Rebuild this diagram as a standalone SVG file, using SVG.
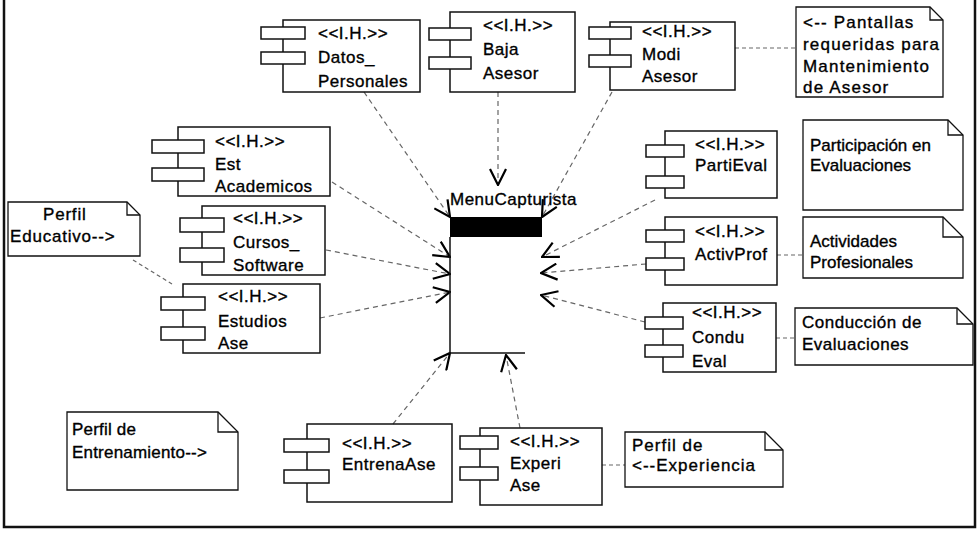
<svg xmlns="http://www.w3.org/2000/svg" width="978" height="538" viewBox="0 0 978 538">
<style>
.bg{fill:#fff}
.frame{fill:none;stroke:#111;stroke-width:2.5}
.box{fill:none;stroke:#111;stroke-width:1.5}
.port{fill:#fff;stroke:#111;stroke-width:1.5}
.note{fill:#fff;stroke:#111;stroke-width:1.3}
.fold{fill:none;stroke:#111;stroke-width:1.3}
.t{font-family:"Liberation Sans",Arial,sans-serif;font-size:17px;fill:#000;stroke:#000;stroke-width:0.35;letter-spacing:0.5px}
.dep{fill:none;stroke:#666;stroke-width:1.2;stroke-dasharray:5 4}
.att{fill:none;stroke:#666;stroke-width:1.2;stroke-dasharray:4 3}
.bar{fill:#000}
</style>
<defs>
<marker id="open" markerUnits="userSpaceOnUse" viewBox="0 0 18 18" markerWidth="18" markerHeight="18" refX="17" refY="9" orient="auto">
<path d="M1,1 L17,9 L1,17" fill="none" stroke="#000" stroke-width="2.2"/>
</marker>
</defs>
<rect class="bg" x="0" y="0" width="978" height="538"/>
<path class="frame" d="M4,0 V527 H975 V0"/>

<g id="connectors">
<line class="dep" x1="364" y1="92" x2="450" y2="217" marker-end="url(#open)"/>
<line class="dep" x1="498" y1="92" x2="498" y2="185" marker-end="url(#open)"/>
<line class="dep" x1="612" y1="92" x2="542" y2="217" marker-end="url(#open)"/>
<line class="dep" x1="332" y1="182" x2="450" y2="257" marker-end="url(#open)"/>
<line class="dep" x1="326" y1="250" x2="450" y2="274" marker-end="url(#open)"/>
<line class="dep" x1="320" y1="318" x2="450" y2="292" marker-end="url(#open)"/>
<line class="dep" x1="655" y1="200" x2="542" y2="257" marker-end="url(#open)"/>
<line class="dep" x1="646" y1="264" x2="541" y2="273" marker-end="url(#open)"/>
<line class="dep" x1="645" y1="322" x2="541" y2="295" marker-end="url(#open)"/>
<line class="dep" x1="393" y1="424" x2="450" y2="353" marker-end="url(#open)"/>
<line class="dep" x1="520" y1="428" x2="506" y2="355" marker-end="url(#open)"/>
<line class="att" x1="133" y1="260" x2="172" y2="284"/>
<line class="att" x1="735" y1="48" x2="796" y2="48"/>
<line class="att" x1="777" y1="255" x2="803" y2="255"/>
<line class="att" x1="776" y1="338" x2="795" y2="338"/>
<line class="att" x1="602" y1="465" x2="625" y2="465"/>
</g>

<g id="menu">
<text class="t" x="450" y="205">MenuCapturista</text>
<rect class="bar" x="450" y="217" width="92" height="20"/>
<path class="box" d="M450,237 V353 H525"/>
</g>

<g id="datos">
<rect class="box" x="283" y="20" width="137" height="72"/>
<rect class="port" x="261" y="27" width="44" height="12"/>
<rect class="port" x="261" y="52" width="44" height="12"/>
<text class="t" x="318" y="39">&lt;&lt;I.H.&gt;&gt;</text>
<text class="t" x="318" y="63">Datos_</text>
<text class="t" x="318" y="87">Personales</text>
</g>

<g id="baja">
<rect class="box" x="450" y="12" width="125" height="80"/>
<rect class="port" x="429" y="28" width="42" height="12"/>
<rect class="port" x="429" y="57" width="42" height="12"/>
<text class="t" x="483" y="31">&lt;&lt;I.H.&gt;&gt;</text>
<text class="t" x="483" y="55">Baja</text>
<text class="t" x="483" y="79">Asesor</text>
</g>

<g id="modi">
<rect class="box" x="610" y="22" width="125" height="68"/>
<rect class="port" x="589" y="27" width="42" height="12"/>
<rect class="port" x="589" y="55" width="42" height="12"/>
<text class="t" x="642" y="37">&lt;&lt;I.H.&gt;&gt;</text>
<text class="t" x="642" y="60">Modi</text>
<text class="t" x="642" y="82">Asesor</text>
</g>

<g id="nota-pantallas">
<path class="note" d="M796,7 H930 L943,20 V97 H796 Z"/>
<path class="fold" d="M930,7 V20 H943"/>
<text class="t" x="803" y="28" style="letter-spacing:1.2px">&lt;-- Pantallas</text>
<text class="t" x="803" y="50" style="letter-spacing:1.2px">requeridas para</text>
<text class="t" x="803" y="72" style="letter-spacing:1.2px">Mantenimiento</text>
<text class="t" x="803" y="93" style="letter-spacing:1.2px">de Asesor</text>
</g>

<g id="est">
<rect class="box" x="178" y="127" width="152" height="69"/>
<rect class="port" x="152" y="140" width="52" height="13"/>
<rect class="port" x="152" y="168" width="52" height="13"/>
<text class="t" x="215" y="147">&lt;&lt;I.H.&gt;&gt;</text>
<text class="t" x="215" y="170">Est</text>
<text class="t" x="215" y="192">Academicos</text>
</g>

<g id="cursos">
<rect class="box" x="202" y="206" width="123" height="69"/>
<rect class="port" x="180" y="218" width="44" height="14"/>
<rect class="port" x="180" y="248" width="44" height="14"/>
<text class="t" x="233" y="224">&lt;&lt;I.H.&gt;&gt;</text>
<text class="t" x="233" y="248">Cursos_</text>
<text class="t" x="233" y="271">Software</text>
</g>

<g id="estudios">
<rect class="box" x="183" y="284" width="137" height="69"/>
<rect class="port" x="161" y="297" width="44" height="13"/>
<rect class="port" x="161" y="327" width="44" height="13"/>
<text class="t" x="218" y="302">&lt;&lt;I.H.&gt;&gt;</text>
<text class="t" x="218" y="327">Estudios</text>
<text class="t" x="218" y="349">Ase</text>
</g>

<g id="nota-educativo">
<path class="note" d="M8,202 H127 L140,215 V256 H8 Z"/>
<path class="fold" d="M127,202 V215 H140"/>
<text class="t" x="43" y="220" style="letter-spacing:0.8px">Perfil</text>
<text class="t" x="10" y="242" style="letter-spacing:0.8px">Educativo--&gt;</text>
</g>

<g id="partieval">
<rect class="box" x="665" y="131" width="112" height="67"/>
<rect class="port" x="646" y="145" width="38" height="12"/>
<rect class="port" x="646" y="176" width="38" height="12"/>
<text class="t" x="695" y="150">&lt;&lt;I.H.&gt;&gt;</text>
<text class="t" x="695" y="171">PartiEval</text>
</g>

<g id="activprof">
<rect class="box" x="665" y="217" width="112" height="68"/>
<rect class="port" x="646" y="230" width="38" height="12"/>
<rect class="port" x="646" y="258" width="38" height="12"/>
<text class="t" x="695" y="237">&lt;&lt;I.H.&gt;&gt;</text>
<text class="t" x="695" y="260">ActivProf</text>
</g>

<g id="condueval">
<rect class="box" x="663" y="303" width="113" height="69"/>
<rect class="port" x="645" y="317" width="38" height="12"/>
<rect class="port" x="645" y="345" width="38" height="12"/>
<text class="t" x="692" y="318">&lt;&lt;I.H.&gt;&gt;</text>
<text class="t" x="692" y="343">Condu</text>
<text class="t" x="692" y="367">Eval</text>
</g>

<g id="nota-participacion">
<path class="note" d="M803,120 H948 L963,135 V210 H803 Z"/>
<path class="fold" d="M948,120 V135 H963"/>
<text class="t" x="810" y="151" style="letter-spacing:0px">Participación en</text>
<text class="t" x="810" y="171" style="letter-spacing:0px">Evaluaciones</text>
</g>

<g id="nota-actividades">
<path class="note" d="M803,217 H943 L963,237 V278 H803 Z"/>
<path class="fold" d="M943,217 V237 H963"/>
<text class="t" x="810" y="247" style="letter-spacing:0px">Actividades</text>
<text class="t" x="810" y="268" style="letter-spacing:0px">Profesionales</text>
</g>

<g id="nota-conduccion">
<path class="note" d="M795,308 H957 L973,324 V365 H795 Z"/>
<path class="fold" d="M957,308 V324 H973"/>
<text class="t" x="802" y="328">Conducción de</text>
<text class="t" x="802" y="350">Evaluaciones</text>
</g>

<g id="nota-entrenamiento">
<path class="note" d="M67,412 H218 L238,432 V490 H67 Z"/>
<path class="fold" d="M218,412 V432 H238"/>
<text class="t" x="72" y="435" style="letter-spacing:0.2px">Perfil de</text>
<text class="t" x="72" y="458" style="letter-spacing:0.2px">Entrenamiento--&gt;</text>
</g>

<g id="entrenaase">
<rect class="box" x="307" y="424" width="145" height="78"/>
<rect class="port" x="284" y="439" width="45" height="13"/>
<rect class="port" x="284" y="470" width="45" height="13"/>
<text class="t" x="342" y="449">&lt;&lt;I.H.&gt;&gt;</text>
<text class="t" x="342" y="470">EntrenaAse</text>
</g>

<g id="experiase">
<rect class="box" x="480" y="428" width="122" height="77"/>
<rect class="port" x="460" y="436" width="38" height="13"/>
<rect class="port" x="460" y="467" width="38" height="13"/>
<text class="t" x="510" y="447">&lt;&lt;I.H.&gt;&gt;</text>
<text class="t" x="510" y="469">Experi</text>
<text class="t" x="510" y="491">Ase</text>
</g>

<g id="nota-experiencia">
<path class="note" d="M625,432 H765 L783,450 V487 H625 Z"/>
<path class="fold" d="M765,432 V450 H783"/>
<text class="t" x="632" y="451" style="letter-spacing:1px">Perfil de</text>
<text class="t" x="632" y="471" style="letter-spacing:1px">&lt;--Experiencia</text>
</g>
</svg>
